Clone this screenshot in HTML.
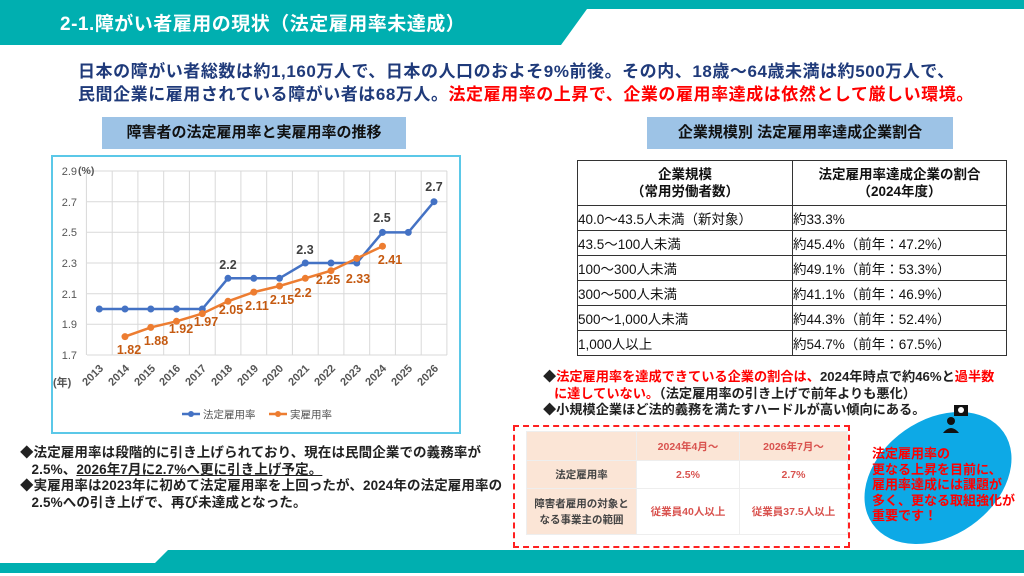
<!DOCTYPE html>
<html><head><meta charset="utf-8"><style>
*{margin:0;padding:0;box-sizing:border-box}
body{width:1024px;height:576px;position:relative;overflow:hidden;background:#fff;font-family:"Liberation Sans","Noto Sans CJK JP",sans-serif;font-weight:bold}
.a{position:absolute;white-space:nowrap}
table{border-collapse:collapse}
</style></head><body>
<svg class="a" style="left:0;top:0" width="1024" height="576">
<polygon points="0,0 1024,0 1024,9 587,9 561,45 0,45" fill="#00AFB0"/>
<polygon points="0,563 155,563 168,550 1024,550 1024,573 0,573" fill="#00AFB0"/>
<ellipse cx="938" cy="478" rx="80" ry="58" transform="rotate(-35 938 478)" fill="#0DA9E6"/>
<rect x="954" y="405" width="14" height="11" fill="#111"/><circle cx="961" cy="410" r="3" fill="#fff"/>
<circle cx="951" cy="421" r="4" fill="#111"/><path d="M943,433 q8,-10 16,0 z" fill="#111"/>
</svg>
<div class="a" style="left:60px;top:9px;font-size:19px;color:#fff;letter-spacing:0.5px">2-1.障がい者雇用の現状（法定雇用率未達成）</div>
<div class="a" style="left:78px;top:60px;font-size:17px;color:#1F3A7A;line-height:23px;letter-spacing:0.55px">日本の障がい者総数は約1,160万人で、日本の人口のおよそ9%前後。その内、18歳～64歳未満は約500万人で、<br>民間企業に雇用されている障がい者は68万人。<span style="color:#FF0000">法定雇用率の上昇で、企業の雇用率達成は依然として厳しい環境。</span></div>
<div class="a" style="left:102px;top:117px;width:304px;height:32px;background:#9DC3E6;font-size:15px;text-align:center;line-height:32px;color:#111">障害者の法定雇用率と実雇用率の推移</div>
<div class="a" style="left:647px;top:117px;width:306px;height:32px;background:#9DC3E6;font-size:15px;text-align:center;line-height:32px;color:#111">企業規模別 法定雇用率達成企業割合</div>
<svg class="a" style="left:0;top:0" width="520" height="440" font-family="Liberation Sans, Noto Sans CJK JP, sans-serif">
<rect x="52" y="156" width="408" height="277" fill="none" stroke="#5BC8E8" stroke-width="2"/>
<g stroke="#d9d9d9" stroke-width="1">
<line x1="87" y1="171" x2="447" y2="171"/><line x1="87" y1="201.7" x2="447" y2="201.7"/><line x1="87" y1="232.3" x2="447" y2="232.3"/><line x1="87" y1="263" x2="447" y2="263"/><line x1="87" y1="293.7" x2="447" y2="293.7"/><line x1="87" y1="324.3" x2="447" y2="324.3"/><line x1="87" y1="355" x2="447" y2="355"/>
<line x1="86.4" y1="171" x2="86.4" y2="355"/><line x1="112.2" y1="171" x2="112.2" y2="355"/><line x1="137.9" y1="171" x2="137.9" y2="355"/><line x1="163.7" y1="171" x2="163.7" y2="355"/><line x1="189.4" y1="171" x2="189.4" y2="355"/><line x1="215.2" y1="171" x2="215.2" y2="355"/><line x1="240.9" y1="171" x2="240.9" y2="355"/><line x1="266.7" y1="171" x2="266.7" y2="355"/><line x1="292.4" y1="171" x2="292.4" y2="355"/><line x1="318.2" y1="171" x2="318.2" y2="355"/><line x1="343.9" y1="171" x2="343.9" y2="355"/><line x1="369.7" y1="171" x2="369.7" y2="355"/><line x1="395.4" y1="171" x2="395.4" y2="355"/><line x1="421.2" y1="171" x2="421.2" y2="355"/><line x1="446.9" y1="171" x2="446.9" y2="355"/>
</g>
<g font-size="11" fill="#555" font-weight="normal" text-anchor="end">
<text x="77" y="175">2.9</text><text x="77" y="206">2.7</text><text x="77" y="236">2.5</text><text x="77" y="267">2.3</text><text x="77" y="298">2.1</text><text x="77" y="328">1.9</text><text x="77" y="359">1.7</text>
</g>
<text x="78" y="174" font-size="10.5" fill="#555">(%)</text>
<text x="53" y="386" font-size="11" fill="#555">(年)</text>
<g font-size="11" fill="#555" text-anchor="end">
<text transform="translate(104,369) rotate(-45)">2013</text><text transform="translate(130,369) rotate(-45)">2014</text><text transform="translate(156,369) rotate(-45)">2015</text><text transform="translate(181,369) rotate(-45)">2016</text><text transform="translate(207,369) rotate(-45)">2017</text><text transform="translate(233,369) rotate(-45)">2018</text><text transform="translate(259,369) rotate(-45)">2019</text><text transform="translate(284,369) rotate(-45)">2020</text><text transform="translate(310,369) rotate(-45)">2021</text><text transform="translate(336,369) rotate(-45)">2022</text><text transform="translate(362,369) rotate(-45)">2023</text><text transform="translate(387,369) rotate(-45)">2024</text><text transform="translate(413,369) rotate(-45)">2025</text><text transform="translate(439,369) rotate(-45)">2026</text>
</g>
<polyline fill="none" stroke="#4472C4" stroke-width="2.5" points="99.3,309 125,309 150.8,309 176.5,309 202.3,309 228,278.3 253.8,278.3 279.5,278.3 305.3,263 331,263 356.8,263 382.5,232.4 408.3,232.4 434,201.7"/>
<g fill="#4472C4"><circle cx="99.3" cy="309" r="3.5"/><circle cx="125" cy="309" r="3.5"/><circle cx="150.8" cy="309" r="3.5"/><circle cx="176.5" cy="309" r="3.5"/><circle cx="202.3" cy="309" r="3.5"/><circle cx="228" cy="278.3" r="3.5"/><circle cx="253.8" cy="278.3" r="3.5"/><circle cx="279.5" cy="278.3" r="3.5"/><circle cx="305.3" cy="263" r="3.5"/><circle cx="331" cy="263" r="3.5"/><circle cx="356.8" cy="263" r="3.5"/><circle cx="382.5" cy="232.4" r="3.5"/><circle cx="408.3" cy="232.4" r="3.5"/><circle cx="434" cy="201.7" r="3.5"/></g>
<polyline fill="none" stroke="#ED7D31" stroke-width="2.5" points="125,336.6 150.8,327.4 176.5,321.3 202.3,313.6 228,301.3 253.8,292.1 279.5,286 305.3,278.3 331,270.7 356.8,258.4 382.5,246.2"/>
<g fill="#ED7D31"><circle cx="125" cy="336.6" r="3.5"/><circle cx="150.8" cy="327.4" r="3.5"/><circle cx="176.5" cy="321.3" r="3.5"/><circle cx="202.3" cy="313.6" r="3.5"/><circle cx="228" cy="301.3" r="3.5"/><circle cx="253.8" cy="292.1" r="3.5"/><circle cx="279.5" cy="286" r="3.5"/><circle cx="305.3" cy="278.3" r="3.5"/><circle cx="331" cy="270.7" r="3.5"/><circle cx="356.8" cy="258.4" r="3.5"/><circle cx="382.5" cy="246.2" r="3.5"/></g>
<g font-size="12.5" fill="#404040" text-anchor="middle"><text x="228" y="269">2.2</text><text x="305" y="254">2.3</text><text x="382" y="222">2.5</text><text x="434" y="191">2.7</text></g>
<g font-size="12.5" fill="#C55A11" text-anchor="middle"><text x="129" y="354">1.82</text><text x="156" y="345">1.88</text><text x="181" y="333">1.92</text><text x="206" y="326">1.97</text><text x="231" y="314">2.05</text><text x="257" y="310">2.11</text><text x="282" y="304">2.15</text><text x="303" y="297">2.2</text><text x="328" y="284">2.25</text><text x="358" y="283">2.33</text><text x="390" y="264">2.41</text></g>
<line x1="182" y1="414" x2="200" y2="414" stroke="#4472C4" stroke-width="2.5"/><circle cx="191" cy="414" r="3" fill="#4472C4"/>
<text x="203" y="418" font-size="10.5" fill="#555" font-weight="normal">法定雇用率</text>
<line x1="269" y1="414" x2="287" y2="414" stroke="#ED7D31" stroke-width="2.5"/><circle cx="278" cy="414" r="3" fill="#ED7D31"/>
<text x="290" y="418" font-size="10.5" fill="#555" font-weight="normal">実雇用率</text>
</svg>
<div class="a" style="left:20px;top:445px;font-size:13.5px;line-height:16.5px;color:#222;letter-spacing:0.1px">◆法定雇用率は段階的に引き上げられており、現在は民間企業での義務率が<br>&nbsp;&nbsp;&nbsp;2.5%、<u>2026年7月に2.7%へ更に引き上げ予定。</u><br>◆実雇用率は2023年に初めて法定雇用率を上回ったが、2024年の法定雇用率の<br>&nbsp;&nbsp;&nbsp;2.5%への引き上げで、再び未達成となった。</div>
<table class="a" style="left:577px;top:160px;width:430px;font-size:13.5px;color:#111;font-weight:normal">
<tr style="height:45px;font-weight:bold;text-align:center;line-height:17px"><td style="border:1.5px solid #333;width:215px">企業規模<br>（常用労働者数）</td><td style="border:1.5px solid #333">法定雇用率達成企業の割合<br>（2024年度）</td></tr>
<tr style="height:25px"><td style="border:1.5px solid #333">40.0～43.5人未満（新対象）</td><td style="border:1.5px solid #333">約33.3%</td></tr>
<tr style="height:25px"><td style="border:1.5px solid #333">43.5～100人未満</td><td style="border:1.5px solid #333">約45.4%（前年：47.2%）</td></tr>
<tr style="height:25px"><td style="border:1.5px solid #333">100～300人未満</td><td style="border:1.5px solid #333">約49.1%（前年：53.3%）</td></tr>
<tr style="height:25px"><td style="border:1.5px solid #333">300～500人未満</td><td style="border:1.5px solid #333">約41.1%（前年：46.9%）</td></tr>
<tr style="height:25px"><td style="border:1.5px solid #333">500～1,000人未満</td><td style="border:1.5px solid #333">約44.3%（前年：52.4%）</td></tr>
<tr style="height:25px"><td style="border:1.5px solid #333">1,000人以上</td><td style="border:1.5px solid #333">約54.7%（前年：67.5%）</td></tr>
</table>
<div class="a" style="left:543px;top:369px;font-size:13.2px;line-height:16.5px;color:#222">◆<span style="color:#FF0000">法定雇用率を達成できている企業の割合は、</span>2024年時点で約46%と<span style="color:#FF0000">過半数</span><br>&nbsp;&nbsp;&nbsp;<span style="color:#FF0000">に達していない。</span>（法定雇用率の引き上げで前年よりも悪化）<br>◆小規模企業ほど法的義務を満たすハードルが高い傾向にある。</div>
<div class="a" style="left:513px;top:425px;width:337px;height:123px;border:2px dashed #FF2020"></div>
<table class="a" style="left:526px;top:431px;width:322px;font-size:10.5px;color:#444;text-align:center;border:1px solid #ddd">
<tr style="height:29px;background:#FBE5D6;color:#D9534F"><td style="width:110px;border:1px solid #eee"></td><td style="width:103px;border:1px solid #eee">2024年4月～</td><td style="border:1px solid #eee">2026年7月～</td></tr>
<tr style="height:28px"><td style="background:#FBE5D6;border:1px solid #eee">法定雇用率</td><td style="color:#D9534F;border:1px solid #eee">2.5%</td><td style="color:#D9534F;border:1px solid #eee">2.7%</td></tr>
<tr style="height:46px;line-height:16px"><td style="background:#FBE5D6;border:1px solid #eee">障害者雇用の対象と<br>なる事業主の範囲</td><td style="color:#D9534F;border:1px solid #eee">従業員40人以上</td><td style="color:#D9534F;border:1px solid #eee">従業員37.5人以上</td></tr>
</table>
<div class="a" style="left:872px;top:446px;font-size:13px;line-height:15.5px;color:#FF0000">法定雇用率の<br>更なる上昇を目前に、<br>雇用率達成には課題が<br>多く、更なる取組強化が<br>重要です！</div>
</body></html>
